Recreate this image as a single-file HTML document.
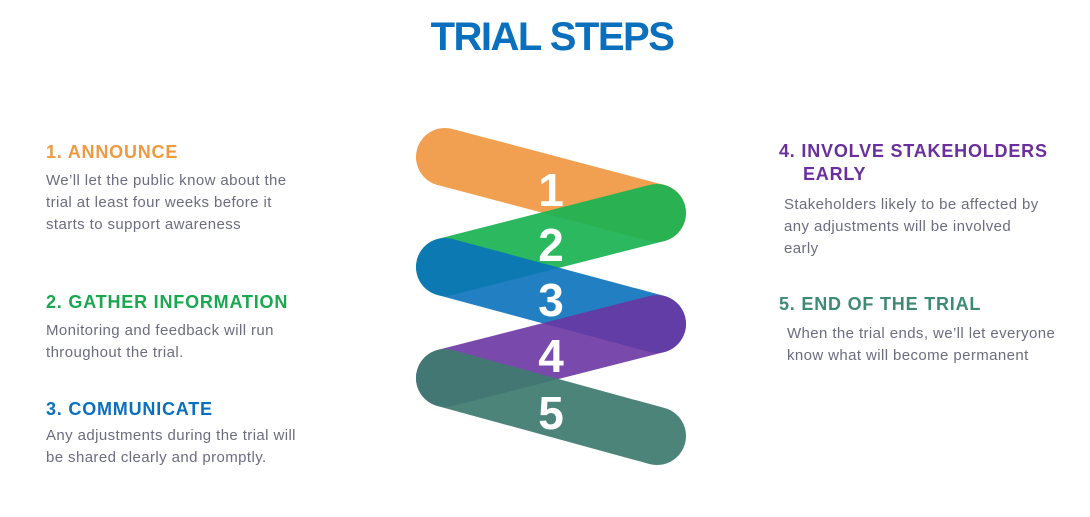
<!DOCTYPE html>
<html><head><style>
body{margin:0;width:1090px;height:517px;background:#fff;position:relative;overflow:hidden;font-family:"Liberation Sans",sans-serif}
.a{position:absolute;white-space:nowrap}
.h{font-weight:bold;font-size:18px;letter-spacing:0.8px}
.t{font-size:15px;line-height:22px;color:#6c6c80;letter-spacing:0.4px}
</style></head><body>
<div class="a" style="left:0;width:1104px;text-align:center;top:15px;font-size:40px;font-weight:bold;color:#0a6fbd;letter-spacing:-1.5px">TRIAL STEPS</div>

<div class="a h" style="left:46px;top:142px;color:#ee9a40">1. ANNOUNCE</div>
<div class="a t" style="left:46px;top:170px">We’ll let the public know about the<br>trial at least four weeks before it<br>starts to support awareness</div>

<div class="a h" style="left:46px;top:292px;color:#18a84f">2. GATHER INFORMATION</div>
<div class="a t" style="left:46px;top:320px">Monitoring and feedback will run<br>throughout the trial.</div>

<div class="a h" style="left:46px;top:399px;color:#0a6fbd">3. COMMUNICATE</div>
<div class="a t" style="left:46px;top:425px">Any adjustments during the trial will<br>be shared clearly and promptly.</div>

<div class="a h" style="left:779px;top:141px;color:#6a2f9e">4. INVOLVE STAKEHOLDERS</div>
<div class="a h" style="left:803px;top:164px;color:#6a2f9e">EARLY</div>
<div class="a t" style="left:784px;top:194px">Stakeholders likely to be affected by<br>any adjustments will be involved<br>early</div>

<div class="a h" style="left:779px;top:294px;color:#3f8a76">5. END OF THE TRIAL</div>
<div class="a t" style="left:787px;top:323px">When the trial ends, we’ll let everyone<br>know what will become permanent</div>

<svg class="a" style="left:0;top:0" width="1090" height="517">
<g stroke-linecap="round" stroke-width="58" fill="none">
<line x1="445" y1="157" x2="657" y2="213" stroke="#f0a050"/>
<line x1="657" y1="213" x2="445" y2="267" stroke="#1bb352" stroke-opacity="0.93"/>
<line x1="445" y1="267" x2="657" y2="324" stroke="#0a72bb" stroke-opacity="0.9"/>
<line x1="657" y1="324" x2="445" y2="378" stroke="#6a35a3" stroke-opacity="0.9"/>
<line x1="445" y1="378" x2="657" y2="436" stroke="#3e7b6f" stroke-opacity="0.93"/>
</g>
<g fill="#fff" font-family="Liberation Sans, sans-serif" font-weight="bold" font-size="46" text-anchor="middle">
<text x="551" y="206">1</text>
<text x="551" y="261">2</text>
<text x="551" y="316">3</text>
<text x="551" y="372">4</text>
<text x="551" y="429">5</text>
</g>
</svg>
</body></html>
